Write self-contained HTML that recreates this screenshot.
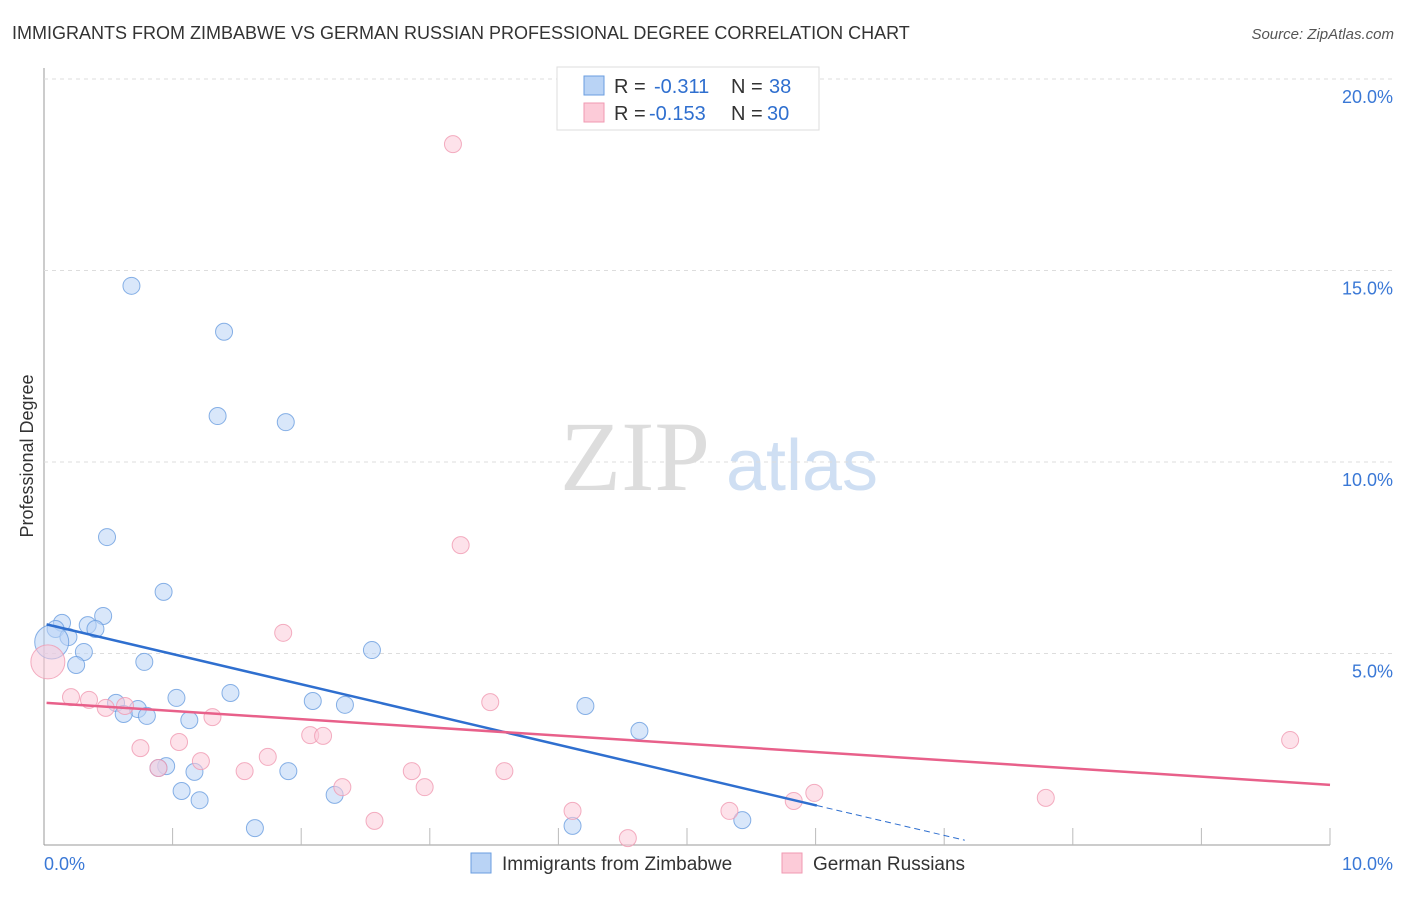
<!DOCTYPE html>
<html><head><meta charset="utf-8">
<style>
body{margin:0;background:#fff;font-family:"Liberation Sans",sans-serif;}
</style></head>
<body>
<svg id="c" width="1406" height="892" font-family="Liberation Sans, sans-serif">
<text x="12" y="39" font-size="18" fill="#333">IMMIGRANTS FROM ZIMBABWE VS GERMAN RUSSIAN PROFESSIONAL DEGREE CORRELATION CHART</text>
<text x="1394" y="39" font-size="15" fill="#555" font-style="italic" text-anchor="end">Source: ZipAtlas.com</text>
<text transform="translate(33,456) rotate(-90)" font-size="18" fill="#333" text-anchor="middle">Professional Degree</text>
<g><text x="635" y="490" font-size="100" fill="#ddd" style="font-family:'Liberation Serif',serif" text-anchor="middle">ZIP</text><text x="802" y="490" font-size="72" fill="#cfdff3" text-anchor="middle">atlas</text></g>
<g id="grid"></g><g id="pts"></g><g id="trend"></g>
<g>
<rect x="557" y="67" width="262" height="63" fill="#fff" stroke="#ddd"/>
<rect x="584" y="76" width="20" height="19" fill="#b9d3f5" stroke="#6a9ee0"/>
<rect x="584" y="103" width="20" height="19" fill="#fccbd8" stroke="#f09ab2"/>
<text x="614" y="93" font-size="20" fill="#333">R =</text><text x="654" y="93" font-size="20" fill="#2f6fcf">-0.311</text>
<text x="731" y="93" font-size="20" fill="#333">N =</text><text x="769" y="93" font-size="20" fill="#2f6fcf">38</text>
<text x="614" y="120" font-size="20" fill="#333">R =</text><text x="649" y="120" font-size="20" fill="#2f6fcf">-0.153</text>
<text x="731" y="120" font-size="20" fill="#333">N =</text><text x="767" y="120" font-size="20" fill="#2f6fcf">30</text>
</g>
<g>
<rect x="471" y="853" width="20" height="20" fill="#b9d3f5" stroke="#6a9ee0"/>
<text x="502" y="870" font-size="19" fill="#333">Immigrants from Zimbabwe</text>
<rect x="782" y="853" width="20" height="20" fill="#fccbd8" stroke="#f09ab2"/>
<text x="813" y="870" font-size="19" fill="#333">German Russians</text>
</g>
</svg>
<script>
const yTicks=[5,10,15,20];
const yTickLabels=["5.0%","10.0%","15.0%","20.0%"];
const xLabels=["0.0%","10.0%"];
const blueX=[0.68,1.40,1.35,1.88,0.49,0.93,0.46,0.14,0.09,0.34,0.40,0.19,0.06,0.31,0.25,0.78,2.55,1.03,1.45,0.56,0.73,0.62,0.80,1.13,2.09,2.34,4.21,4.63,0.95,0.89,1.17,1.07,1.21,1.90,2.26,1.64,4.11,5.43];
const blueY=[14.6,13.4,11.2,11.04,8.04,6.61,5.98,5.80,5.64,5.74,5.64,5.43,5.30,5.04,4.70,4.78,5.09,3.84,3.97,3.71,3.55,3.42,3.37,3.26,3.76,3.66,3.63,2.98,2.06,2.01,1.91,1.41,1.17,1.93,1.31,0.44,0.50,0.65];
const pinkX=[3.18,3.24,1.86,0.03,0.21,0.35,0.48,0.63,1.31,3.47,0.75,1.05,1.22,1.56,1.74,2.07,2.17,2.32,2.86,2.96,3.58,2.57,4.11,4.54,5.33,5.83,5.99,7.79,9.69,0.89];
const pinkY=[18.3,7.83,5.54,4.78,3.86,3.79,3.58,3.63,3.34,3.73,2.53,2.69,2.19,1.93,2.30,2.87,2.85,1.51,1.93,1.51,1.93,0.63,0.89,0.18,0.89,1.15,1.36,1.23,2.74,2.01];
const blueTrend=[5.76,-0.787];
const pinkTrend=[3.71,-0.214];
const blueSolidEnd=6.01, blueDashEnd=7.16;
const NS='http://www.w3.org/2000/svg';
const X=v=>44+v*128.6, Y=v=>845-v*38.3;
function el(t,a,p){const e=document.createElementNS(NS,t);for(const k in a)e.setAttribute(k,a[k]);p.appendChild(e);return e;}
const g=document.getElementById('grid');
const ax=el('line',{x1:44,y1:68,x2:44,y2:845,stroke:'#999'},g);


const xa=el('line',{x1:44,y1:845,x2:1330,y2:845,stroke:'#999'},g);


for(let i=1;i<=10;i++){const t=el('line',{x1:X(i),y1:828,x2:X(i),y2:845,stroke:'#bbb'},g);

}
yTicks.forEach((v,i)=>{const l=el('line',{x1:44,y1:Y(v),x2:1394,y2:Y(v),stroke:'#ddd','stroke-dasharray':'4,4'},g);


const t=el('text',{x:1393,y:Y(v)+24,'font-size':18,fill:'#3a78d6','text-anchor':'end'},g);t.textContent=yTickLabels[i];

});
xLabels.forEach((s,i)=>{const t=el('text',{x:i?1393:44,y:870,'font-size':18,fill:'#3a78d6','text-anchor':i?'end':'start'},g);t.textContent=s;

});
const p=document.getElementById('pts');
function dots(xs,ys,f,s,n,bigIdx){xs.forEach((x,i)=>{const c=el('circle',{cx:X(x),cy:Y(ys[i]),r:i===bigIdx?17:8.5,fill:f,'fill-opacity':0.55,stroke:s,'stroke-opacity':0.8},p);

});}
dots(blueX,blueY,'#b9d3f5','#6a9ee0','zimbabwe-point',12);
dots(pinkX,pinkY,'#fccbd8','#f09ab2','german-russian-point',3);
const tr=document.getElementById('trend');
const bl=el('line',{x1:X(0.02),y1:Y(blueTrend[0]),x2:X(blueSolidEnd),y2:Y(blueTrend[0]+blueTrend[1]*blueSolidEnd),stroke:'#2f6fcf','stroke-width':2.5},tr);


const bd=el('line',{x1:X(blueSolidEnd),y1:Y(blueTrend[0]+blueTrend[1]*blueSolidEnd),x2:X(blueDashEnd),y2:Y(blueTrend[0]+blueTrend[1]*blueDashEnd),stroke:'#2f6fcf','stroke-width':1,'stroke-dasharray':'6,4'},tr);


const pl=el('line',{x1:X(0.02),y1:Y(pinkTrend[0]),x2:X(10),y2:Y(pinkTrend[0]+pinkTrend[1]*10),stroke:'#e8608a','stroke-width':2.5},tr);


</script>
</body></html>
